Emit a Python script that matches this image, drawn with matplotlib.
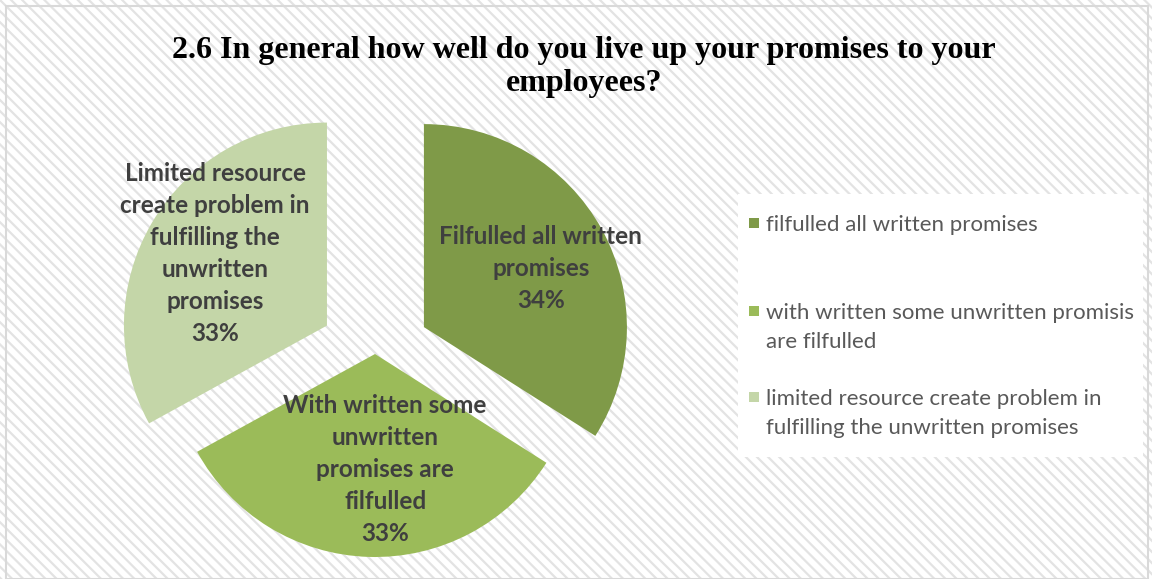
import matplotlib.pyplot as plt
from matplotlib.patches import Rectangle

plt.rcParams['hatch.linewidth'] = 1.6

# survey answers
categories = ["Filfulled all written\npromises",
              "With written some\nunwritten\npromises are\nfilfulled",
              "Limited resource\ncreate problem in\nfulfilling the\nunwritten\npromises"]
legend_labels = ["filfulled all written promises",
                 "with written some unwritten promisis\nare filfulled",
                 "limited resource create problem in\nfulfilling the unwritten promises"]
shares = [34, 33, 33]
colors = ["#7f9a48", "#9bbb59", "#c4d6a8"]
explode = [0.275, 0.0, 0.275]

W, H = 1152, 579
fig = plt.figure(figsize=(W / 100, H / 100), dpi=100)

# full-figure axes in pixel coordinates for background, frame, title, legend
bg = fig.add_axes([0, 0, 1, 1], zorder=0)
bg.set_xlim(0, W)
bg.set_ylim(H, 0)
bg.axis('off')
bg.add_patch(Rectangle((0, 0), W, H, facecolor='white', edgecolor='#e3e3e3',
                       hatch='\\\\\\', lw=0))
bg.add_patch(Rectangle((6, 6), W - 10, H - 6, facecolor='none',
                       edgecolor='#d9d9d9', lw=1.5))
bg.text(584, 67, "2.6 In general how well do you live up your promises to your\nemployees?",
        ha='center', va='center', family='Liberation Serif', weight='bold',
        fontsize=23, linespacing=1.2, color='black')

# pie axes: centre at (375, 354) px, radius 203 px
R = 203
cx, cy = 375, 354
ax = fig.add_axes([(cx - 1.5 * R) / W, (H - cy - 1.5 * R) / H, 3 * R / W, 3 * R / H], zorder=1)
ax.axis('off')

total = sum(shares)
slice_text = ["{}\n{:.0f}%".format(c, 100 * s / total) for c, s in zip(categories, shares)]
wedges, texts = ax.pie(shares, labels=slice_text, colors=colors, explode=explode,
                       startangle=90, counterclock=False, radius=1,
                       labeldistance=0.64, wedgeprops=dict(linewidth=0),
                       textprops=dict(family='Lato', weight='bold', fontsize=17.5,
                                      color='#3f3f3f', linespacing=1.47))
ax.set_xlim(-1.5, 1.5)
ax.set_ylim(-1.5, 1.5)
# small nudges so the labels sit where they fit best inside the slices
nudges = [(0.015, -0.02), (0.07, 0.07), (0.0, 0.03)]
for t, (dx, dy) in zip(texts, nudges):
    x, y = t.get_position()
    t.set_position((x + dx, y + dy))
    t.set_horizontalalignment('center')
    t.set_verticalalignment('center')
    t.set_multialignment('center')

# legend box
bg.add_patch(Rectangle((738, 194), 405, 263, facecolor='white', edgecolor='none'))
first_line_y = [223, 311, 397]
for y, c, lab in zip(first_line_y, colors, legend_labels):
    bg.add_patch(Rectangle((749, y - 5), 10, 10, facecolor=c, edgecolor='none'))
    bg.text(766, y - 8, lab, ha='left', va='top', family='Lato', fontsize=16,
            color='#595959', linespacing=1.55)

fig.savefig("out.png", dpi=100)
